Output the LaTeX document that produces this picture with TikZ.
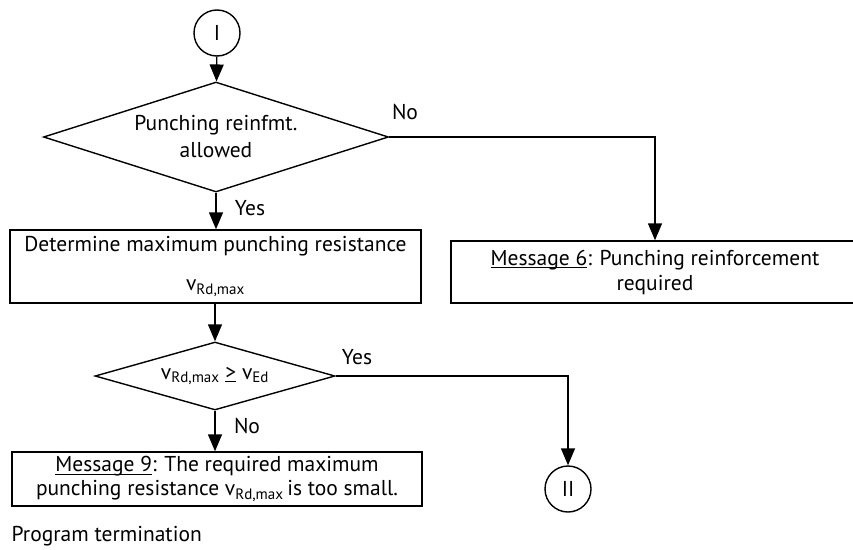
\documentclass[tikz,border=0pt]{standalone}
\usepackage{fontspec}
\setmainfont{PT Sans}
\usetikzlibrary{arrows.meta,shapes.geometric}
\newcommand{\vsub}[1]{v\textsubscript{#1}}
\newcommand{\msgul}[1]{\setbox0\hbox{#1}\rlap{\rule[-3pt]{\wd0}{1.1pt}}\box0\relax}

\begin{document}
\begin{tikzpicture}[x=1pt, y=-1pt, line width=1.4pt,
  every node/.style={font=\fontsize{21.5}{25}\selectfont},
  arr/.style={-{Triangle[length=17pt,width=14pt]}},
  procbox/.style={draw, rectangle, inner sep=0pt, align=center},
  decision/.style={draw, diamond, inner sep=0pt, align=center},
  connector/.style={draw, circle, inner sep=0pt, minimum size=46pt}]
\useasboundingbox (0,0) rectangle (853,549);

\node[connector] (startI) at (217,33) {I};
\node[decision, aspect=3.1, minimum width=345pt, minimum height=110pt] (allowed) at (216,137)
  {Punching reinfmt.\\[2pt] allowed};
\node[procbox, minimum width=411pt, minimum height=73pt] (vrdmax) at (215.5,266.5)
  {Determine maximum punching resistance\\[14pt] \vsub{Rd,max}};
\node[procbox, minimum width=408pt, minimum height=62pt] (msgsix) at (655,272)
  {\msgul{Message 6}: Punching reinforcement\\ required};
\node[decision, aspect=3.5, minimum width=240pt, minimum height=68pt] (check) at (215,376)
  {\vsub{Rd,max} \msgul{>} \vsub{Ed}};
\node[procbox, minimum width=410pt, minimum height=54pt] (msgnine) at (217,479)
  {\msgul{Message 9}: The required maximum\\[-1pt] punching resistance \vsub{Rd,max}\,is too small.};
\node[connector] (endII) at (568,489) {II};
\node[anchor=west, inner sep=0pt] (stop) at (11,536) {Program termination};

\node (noA) at (405,112) {No};
\node (yesA) at (250,208) {Yes};
\node (yesB) at (357,357) {Yes};
\node (noB) at (247,426) {No};

\draw[arr] (startI) -- (allowed);
\draw[arr] (allowed) -- (allowed |- vrdmax.north);
\draw[arr] (allowed.east) -| (msgsix.north);
\draw[arr] (vrdmax.south -| check) -- (check);
\draw[arr] (check.east) -| (endII);
\draw[arr] (check) -- (check |- msgnine.north);
\end{tikzpicture}
\end{document}
